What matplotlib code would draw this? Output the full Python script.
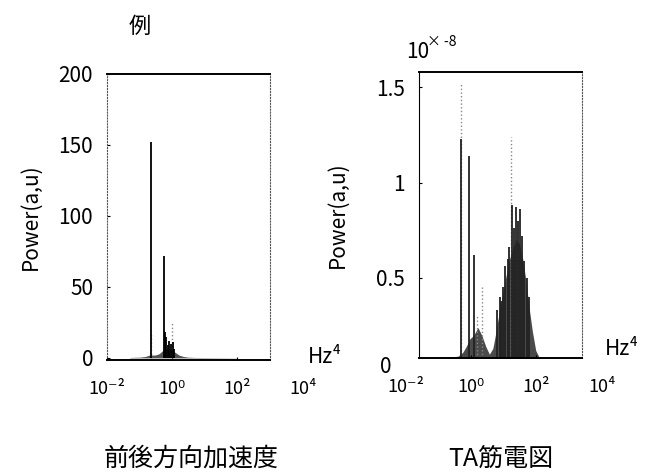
import numpy as np
import matplotlib.pyplot as plt
import matplotlib.transforms as mtransforms

plt.rcParams['font.family'] = ['Noto Sans CJK JP', 'DejaVu Sans']

# left panel: 前後方向加速度
acc_spike_f = [0.22, 0.55, 0.6, 0.65, 0.72, 0.81, 0.91, 1.02, 1.1]
acc_spike_p = [152, 72, 18, 15, 9, 12, 10, 11, 6]
acc_dot_f = [0.23, 0.95]
acc_dot_p = [18, 25]
acc_env_f = [0.05, 0.1, 0.15, 0.2, 0.3, 0.4, 0.5, 0.7, 0.9, 1.2, 1.6, 2.2, 3, 5, 20, 100]
acc_env_p = [0.3, 0.5, 1, 2, 2, 3, 5, 7, 6, 4, 2, 1, 0.5, 0.3, 0.2, 0.1]

# right panel: TA筋電図 (x 1e-8)
emg_spike_f = [0.49, 0.85, 1.22, 6.2, 7.4, 8.2, 9.5, 11, 13, 14.5, 17.5, 20, 24, 28,
               31.6, 35, 42, 50, 58]
emg_spike_p = [1.23, 1.14, 0.62, 0.33, 0.4, 0.38, 0.45, 0.56, 0.6, 0.66, 0.88, 0.76, 0.87, 0.8,
               0.86, 0.72, 0.59, 0.5, 0.4]
emg_dot_f = [0.47, 1.5, 2.1, 16.6, 26]
emg_dot_p = [1.52, 0.3, 0.45, 1.24, 0.8]
emg_env_f = [0.15, 0.25, 0.4, 0.55, 0.7, 0.9, 1.2, 1.6, 2.1, 2.8, 3.6, 4.6, 5.5, 6.6,
             8, 10, 12, 15, 19, 24, 30, 38, 48, 60, 75, 95, 120, 160]
emg_env_p = [0.08, 0.085, 0.09, 0.11, 0.14, 0.18, 0.2, 0.24, 0.2, 0.14, 0.1, 0.13, 0.2, 0.28,
             0.36, 0.45, 0.52, 0.6, 0.66, 0.7, 0.68, 0.6, 0.48, 0.34, 0.22, 0.12, 0.085, 0.08]

xtick_vals = [1e-2, 1e0, 1e2, 1e4]
xtick_txt = ['10⁻²', '10⁰', '10²', '10⁴']

fig = plt.figure(figsize=(6.61, 4.74), dpi=100)
ax1 = fig.add_axes([0.162, 0.2405, 0.2466, 0.6034])
ax2 = fig.add_axes([0.634, 0.2447, 0.2466, 0.6034])


def style(ax, xlim, lpad):
    ax.set_xscale('log')
    ax.set_xlim(*xlim)
    ax.spines['top'].set_linewidth(1.4)
    ax.spines['bottom'].set_linewidth(1.4)
    for s in ['left', 'right']:
        ax.spines[s].set_linestyle(':')
        ax.spines[s].set_color('#555555')
    ax.tick_params(axis='both', direction='in', length=2, labelsize=15, pad=10)
    ax.tick_params(axis='x', which='minor', length=0)
    ax.set_xticks([t for t in xtick_vals if xlim[0] <= t <= xlim[1]])
    ax.set_xticklabels([])
    ax.set_ylabel('Power(a,u)', fontsize=15, labelpad=lpad)
    trans = mtransforms.blended_transform_factory(ax.transData, ax.transAxes)
    for v, t in zip(xtick_vals, xtick_txt):
        ax.text(v, -0.1, t, transform=trans, ha='center', va='center',
                fontsize=13, clip_on=False)


# left
ax1.fill_between(acc_env_f, 0, acc_env_p, color='#555555', lw=0)
ax1.vlines(acc_dot_f, 0, acc_dot_p, colors='#888888', linestyles=':', lw=1)
ax1.vlines(acc_spike_f, 0, acc_spike_p, colors='black', lw=1.3)
style(ax1, (1e-2, 1e3), 12)
ax1.set_ylim(-1.5, 200)
ax1.set_yticks([0, 50, 100, 150, 200])
ax1.text(1.23, 0.01, 'Hz⁴', transform=ax1.transAxes, fontsize=15, ha='left', va='center')

# right
ax2.fill_between(emg_env_f, 0, emg_env_p, color='#4a4a4a', lw=0)
ax2.vlines(emg_dot_f, 0, emg_dot_p, colors='#888888', linestyles=':', lw=1)
ax2.vlines(emg_spike_f, 0, emg_spike_p, colors='#222222', lw=1.3)
style(ax2, (10 ** -1.6, 10 ** 3.4), 20)
ax2.spines['left'].set_linestyle('-')
ax2.spines['left'].set_color('black')
ax2.set_ylim(0.08, 1.58)
ax2.set_yticks([0.5, 1, 1.5])
ax2.set_yticklabels(['0.5', '1', '1.5'])
ax2.text(0.0036, 0.035, '0', transform=ax2.transData, fontsize=15, ha='right', va='center',
         clip_on=False)
ax2.text(1.14, 0.03, 'Hz⁴', transform=ax2.transAxes, fontsize=15, ha='left', va='center')
ax2.text(-0.08, 1.03, '10', transform=ax2.transAxes, fontsize=15, ha='left', va='bottom')
ax2.text(0.05, 1.08, '× -8', transform=ax2.transAxes, fontsize=10, ha='left', va='bottom')

fig.text(0.212, 0.945, '例', fontsize=16, ha='center', va='center')
fig.text(0.289, 0.033, '前後方向加速度', fontsize=18, ha='center', va='center')
fig.text(0.757, 0.033, 'TA筋電図', fontsize=18, ha='center', va='center')

fig.savefig('out.png', dpi=100)
